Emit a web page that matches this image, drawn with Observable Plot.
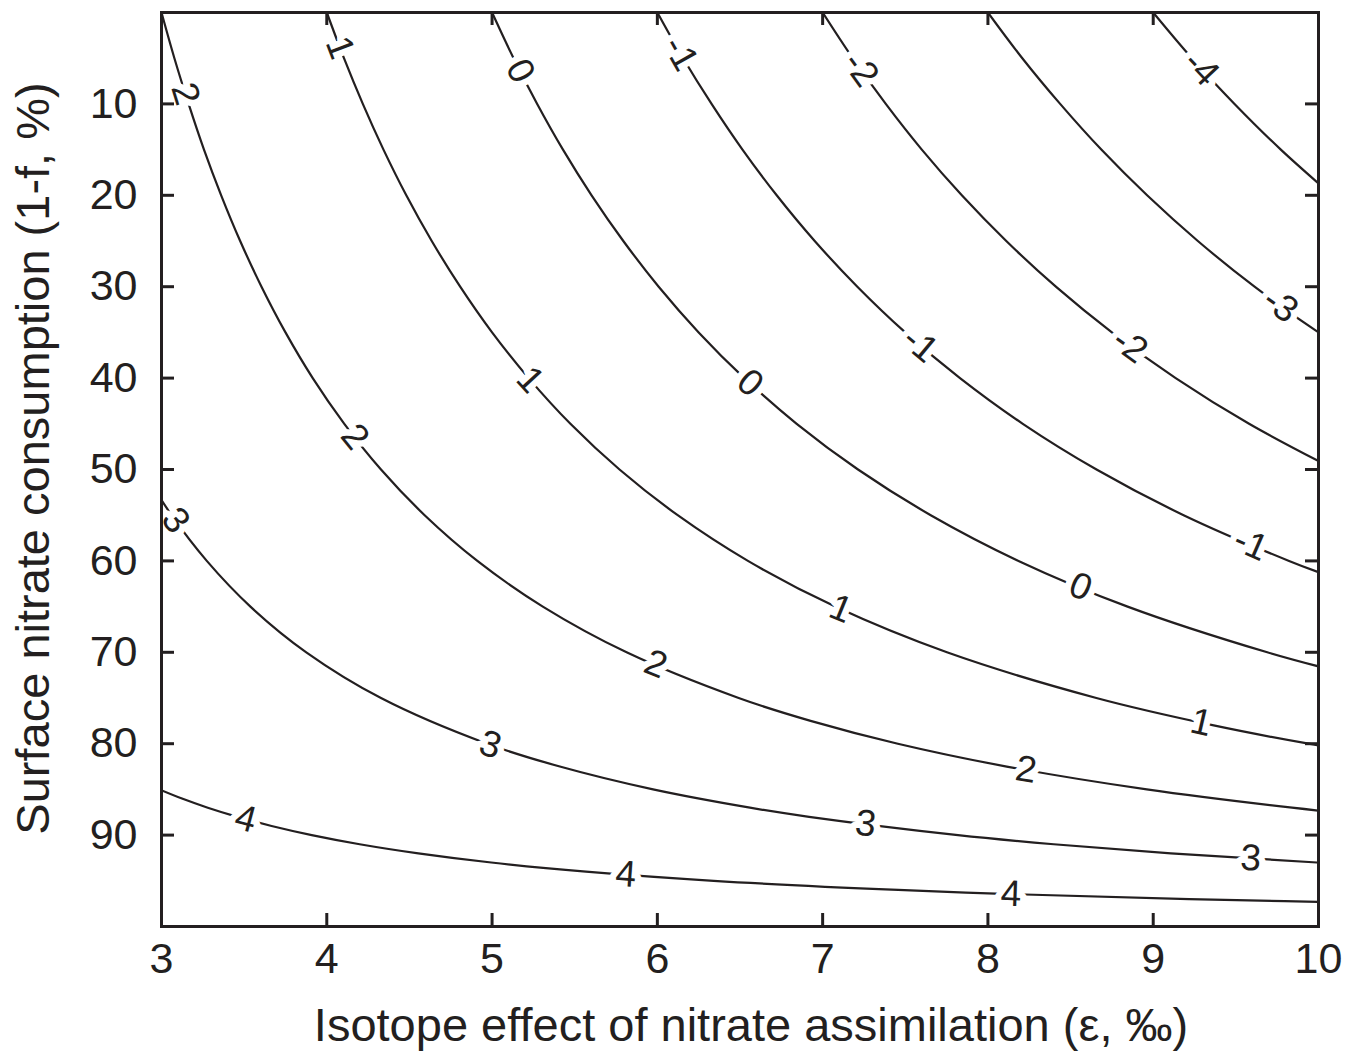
<!DOCTYPE html>
<html>
<head>
<meta charset="utf-8">
<script src="https://cdn.jsdelivr.net/npm/d3@7"></script>
<script src="https://cdn.jsdelivr.net/npm/@observablehq/plot@0.6"></script>
<style>
  html, body { margin: 0; padding: 0; background: #ffffff; }
  #chart svg { display: block; overflow: visible; }
</style>
</head>
<body>
<div id="chart"></div>
<script>
// ---- Data: contour lines as [epsilon, consumption %] ----
const levels = [4, 3, 2, 1, 0, -1, -2, -3, -4];

const line_p4 = [[2.987,85],[3.124,86],[3.280,87],[3.459,88],[3.666,89],[3.909,90],[4.199,91],[4.554,92],[4.995,93],[5.568,94],[6.341,95],[7.457,96],[8.224,96.5],[9.217,97],[10.57,97.5]];
const line_p3 = [[2.886,50],[3.061,55],[3.274,60],[3.538,65],[3.876,70],[4.328,75],[4.970,80],[5.410,82.5],[5.974,85],[6.560,87],[6.918,88],[7.819,90],[8.398,91],[9.107,92],[9.990,93],[11.136,94]];
const line_p2 = [[3.000,0],[3.078,5],[3.164,10],[3.257,15],[3.361,20],[3.476,25],[3.605,30],[3.750,35],[3.915,40],[4.106,45],[4.328,50],[4.592,55],[4.911,60],[5.307,65],[5.814,70],[6.492,75],[6.927,77.5],[7.455,80],[8.114,82.5],[8.961,85],[9.840,87],[10.377,88]];
const line_p1 = [[4.000,0],[4.104,5],[4.218,10],[4.343,15],[4.481,20],[4.635,25],[4.807,30],[5.000,35],[5.221,40],[5.474,45],[5.771,50],[6.123,55],[6.548,60],[7.076,65],[7.752,70],[8.656,75],[9.366,78],[9.940,80],[10.627,82]];
const line_0  = [[5.000,0],[5.130,5],[5.273,10],[5.429,15],[5.602,20],[5.794,25],[6.008,30],[6.250,35],[6.526,40],[6.843,45],[7.214,50],[7.654,55],[8.185,60],[8.845,65],[9.690,70],[10.100,72],[10.820,75]];
const line_m1 = [[6.000,0],[6.156,5],[6.328,10],[6.515,15],[6.722,20],[6.952,25],[7.210,30],[7.500,35],[7.831,40],[8.211,45],[8.657,50],[9.184,55],[9.822,60],[10.117,62],[10.614,65]];
const line_m2 = [[7.000,0],[7.182,5],[7.382,10],[7.600,15],[7.842,20],[8.111,25],[8.411,30],[8.750,35],[9.136,40],[9.580,45],[10.099,50]];
const line_m3 = [[8.000,0],[8.208,5],[8.437,10],[8.686,15],[8.963,20],[9.270,25],[9.613,30],[10.000,35],[10.441,40]];
const line_m4 = [[9.000,0],[9.234,5],[9.492,10],[9.772,15],[10.083,20]];

const contourLines = [line_p4, line_p3, line_p2, line_p1, line_0, line_m1, line_m2, line_m3, line_m4];

// contour label spots: [level, epsilon along the line]
const labelSpots = [
  [2, 3.145], [2, 4.17], [2, 5.99], [2, 8.23],
  [1, 4.08], [1, 5.23], [1, 7.11], [1, 9.29],
  [0, 5.17], [0, 6.56], [0, 8.56],
  [-1, 6.14], [-1, 7.59], [-1, 9.59],
  [-2, 7.23], [-2, 8.86],
  [-3, 9.77],
  [-4, 9.29],
  [3, 3.085], [3, 4.99], [3, 7.26], [3, 9.59],
  [4, 3.51], [4, 5.81], [4, 8.14]
];

const xTicks = [3, 4, 5, 6, 7, 8, 9, 10];
const yTicks = [10, 20, 30, 40, 50, 60, 70, 80, 90];
const xDomain = [3, 10];
const yDomain = [0, 100];
const xTitle = "Isotope effect of nitrate assimilation (ε, ‰)";
const yTitle = "Surface nitrate consumption (1-f, %)";

// ---- Layout ----
const W = 1349, H = 1055;
const mL = 161, mR = 31, mT = 12, mB = 129;
const ink = "#231f20";
const pxX = (W - mL - mR) / (xDomain[1] - xDomain[0]);
const pxY = (H - mT - mB) / (yDomain[1] - yDomain[0]);
const tickLen = 13;

// Table for lines
const lineRows = [];
contourLines.forEach((pts, i) => {
  pts.forEach(([e, c]) => lineRows.push({level: levels[i], eps: e, c}));
});

// Labels placed on their line, rotated along it
const labelRows = labelSpots.map(([lev, e]) => {
  const pts = contourLines[levels.indexOf(lev)];
  let k = 0;
  while (k < pts.length - 2 && pts[k + 1][0] < e) k++;
  const [e0, c0] = pts[k], [e1, c1] = pts[k + 1];
  const t = (e - e0) / (e1 - e0);
  const c = c0 + t * (c1 - c0);
  let ang = Math.atan2((c1 - c0) * pxY, (e1 - e0) * pxX) * 180 / Math.PI;
  if (ang > 90) ang -= 180;
  if (ang < -90) ang += 180;
  return {eps: e, c, text: String(lev), angle: ang};
});

const xInner = xTicks.slice(1, -1);

const chart = Plot.plot({
  width: W,
  height: H,
  marginLeft: mL,
  marginRight: mR,
  marginTop: mT,
  marginBottom: mB,
  style: {
    fontFamily: "'Liberation Sans', Arial, Helvetica, sans-serif",
    background: "#ffffff",
    color: ink,
    overflow: "visible"
  },
  x: {domain: xDomain},
  y: {domain: yDomain, reverse: true},
  marks: [
    Plot.line(lineRows, {x: "eps", y: "c", z: "level", stroke: ink, strokeWidth: 2.2, curve: "catmull-rom", clip: true}),
    Plot.text(labelRows, {
      x: "eps", y: "c", text: "text", rotate: "angle",
      fontSize: 37, fill: ink, stroke: "#ffffff", strokeWidth: 13, paintOrder: "stroke",
      textAnchor: "middle", lineAnchor: "middle"
    }),
    // inward ticks
    Plot.ruleY(yTicks, {y: d => d, x1: xDomain[0], x2: xDomain[0] + tickLen / pxX, stroke: ink, strokeWidth: 3}),
    Plot.ruleY(yTicks, {y: d => d, x1: xDomain[1] - tickLen / pxX, x2: xDomain[1], stroke: ink, strokeWidth: 3}),
    Plot.ruleX(xInner, {x: d => d, y1: yDomain[1], y2: yDomain[1] - tickLen / pxY, stroke: ink, strokeWidth: 3}),
    Plot.ruleX(xInner, {x: d => d, y1: yDomain[0], y2: yDomain[0] + tickLen / pxY, stroke: ink, strokeWidth: 3}),
    Plot.frame({stroke: ink, strokeWidth: 3}),
    Plot.axisX({ticks: xTicks, tickFormat: d => String(d), tickSize: 0, tickPadding: 16, fontSize: 43, label: null, fill: ink}),
    Plot.axisY({ticks: yTicks, tickFormat: d => String(d), tickSize: 0, tickPadding: 24, fontSize: 43, label: null, fill: ink}),
    Plot.text([xTitle], {frameAnchor: "bottom", text: d => d, dy: 99, dx: 11, fontSize: 47, fill: ink, lineAnchor: "middle", textAnchor: "middle"}),
    Plot.text([yTitle], {frameAnchor: "left", text: d => d, dx: -128, dy: -11, rotate: -90, fontSize: 47, fill: ink, lineAnchor: "middle", textAnchor: "middle"})
  ]
});

document.getElementById("chart").appendChild(chart);
</script>
</body>
</html>
